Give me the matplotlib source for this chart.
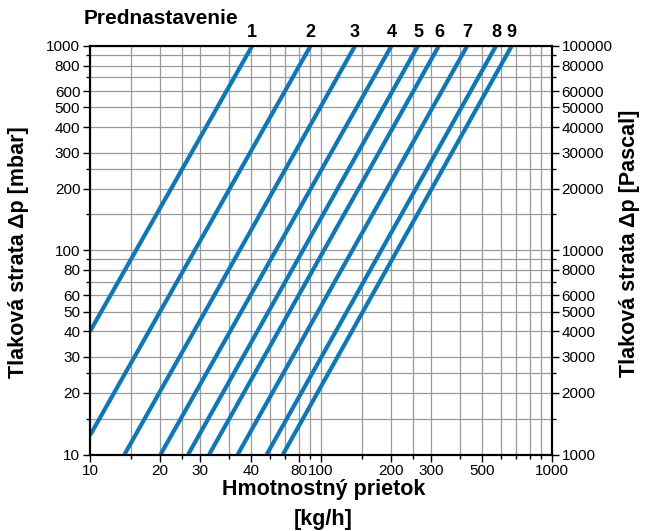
import matplotlib
matplotlib.use("Agg")
import matplotlib.pyplot as plt
from matplotlib.ticker import FixedLocator, NullFormatter

plt.rcParams['font.family'] = ['Liberation Sans', 'DejaVu Sans']

# presetting curves: endpoints
settings = ['1', '2', '3', '4', '5', '6', '7', '8', '9']
flow_low = [10, 10, 14.1, 20.2, 26.6, 32.8, 43.6, 58.2, 68.4]
dp_low = [40, 12.4, 10, 10, 10, 10, 10, 10, 10]
flow_high = [50.4, 90.2, 140.5, 202, 263, 324, 430, 573, 670]
dp_high = [1000, 1000, 1000, 1000, 1000, 1000, 1000, 1000, 1000]

x_ticks = [10, 20, 30, 50, 80, 100, 200, 300, 500, 1000]
x_ticklabels = ['10', '20', '30', '40', '80', '100', '200', '300', '500', '1000']
x_minor = [15, 25, 40, 60, 70, 90, 150, 250, 400, 600, 700, 800, 900]

y_ticks = [10, 20, 30, 40, 50, 60, 80, 100, 200, 300, 400, 500, 600, 800, 1000]
y_ticklabels = ['10', '20', '30', '40', '50', '60', '80', '100', '200', '300',
                '400', '500', '600', '800', '1000']
y2_ticklabels = ['1000', '2000', '3000', '4000', '5000', '6000', '8000', '10000',
                 '20000', '30000', '40000', '50000', '60000', '80000', '100000']
y_minor = [15, 25, 70, 90, 150, 250, 700, 900]

BLUE = '#0a78be'
GRID = '#9a9a9a'

fig = plt.figure(figsize=(6.45, 5.31), dpi=100)
ax = fig.add_axes([90 / 645, 1 - 454.5 / 531, 462 / 645, 408.8 / 531])

for i in range(len(settings)):
    ax.plot([flow_low[i], flow_high[i]], [dp_low[i], dp_high[i]],
            color=BLUE, lw=3.0, solid_capstyle='butt', zorder=3, clip_on=True)
    ax.text(flow_high[i], 1060, settings[i], ha='center', va='bottom',
            fontsize=13, fontweight='bold')

ax.set_xscale('log')
ax.set_yscale('log')
ax.set_xlim(10, 1000)
ax.set_ylim(10, 1000)

ax.xaxis.set_major_locator(FixedLocator(x_ticks))
ax.set_xticklabels(x_ticklabels)
ax.xaxis.set_minor_locator(FixedLocator(x_minor))
ax.xaxis.set_minor_formatter(NullFormatter())
ax.yaxis.set_major_locator(FixedLocator(y_ticks))
ax.set_yticklabels(y_ticklabels)
ax.yaxis.set_minor_locator(FixedLocator(y_minor))
ax.yaxis.set_minor_formatter(NullFormatter())

ax.grid(True, which='both', color=GRID, lw=0.9)
ax.tick_params(which='both', direction='out', labelsize=11, width=1, color='black')
ax.tick_params(which='major', length=5, pad=2)
ax.tick_params(which='minor', length=3)
for s in ax.spines.values():
    s.set_linewidth(1.5)

ax2 = ax.twinx()
ax2.set_yscale('log')
ax2.set_ylim(1000, 100000)
ax2.yaxis.set_major_locator(FixedLocator([v * 100 for v in y_ticks]))
ax2.set_yticklabels(y2_ticklabels)
ax2.yaxis.set_minor_locator(FixedLocator([v * 100 for v in y_minor]))
ax2.yaxis.set_minor_formatter(NullFormatter())
ax2.tick_params(which='both', direction='out', labelsize=11, width=1)
ax2.tick_params(which='major', length=5, pad=2)
ax2.tick_params(which='minor', length=3)
for s in ax2.spines.values():
    s.set_linewidth(1.5)

fig.text(84 / 645, 1 - 18 / 531, 'Prednastavenie', ha='left', va='center',
         fontsize=15, fontweight='bold')
fig.text(19 / 645, 1 - 252 / 531, 'Tlaková strata Δp [mbar]', rotation=90,
         ha='center', va='center', fontsize=15.5, fontweight='bold')
fig.text(630 / 645, 1 - 243 / 531, 'Tlaková strata Δp [Pascal]', rotation=90,
         ha='center', va='center', fontsize=15.5, fontweight='bold')
fig.text(324 / 645, 1 - 490 / 531, 'Hmotnostný prietok', ha='center', va='center',
         fontsize=15.5, fontweight='bold')
fig.text(323 / 645, 1 - 520 / 531, '[kg/h]', ha='center', va='center',
         fontsize=15.5, fontweight='bold')

fig.savefig('out.png', dpi=100)
